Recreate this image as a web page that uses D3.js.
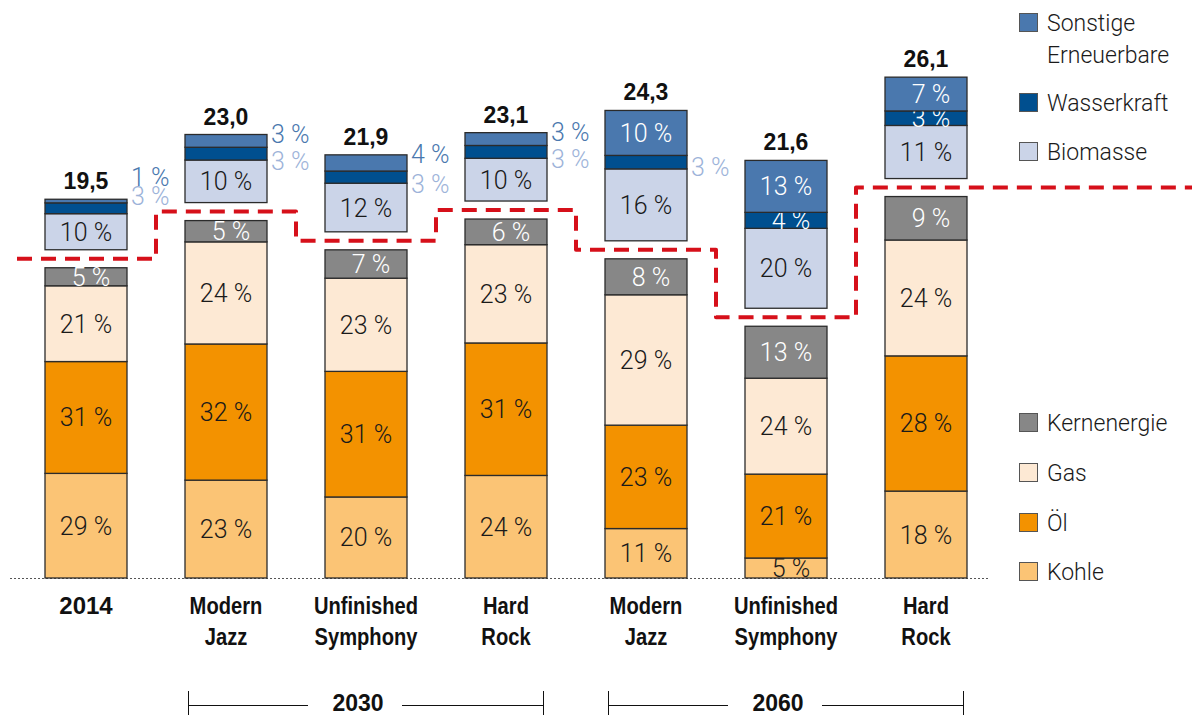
<!DOCTYPE html>
<html><head><meta charset="utf-8">
<script src="https://cdn.jsdelivr.net/npm/d3@7"></script>
<style>
body{margin:0;background:#fff}
svg{display:block}
</style></head><body>
<svg id="chart" width="1192" height="715"></svg>
<script>
// Primary energy supply by scenario: totals and percentage shares per source
const scenarioLabels = [["2014"], ["Modern", "Jazz"], ["Unfinished", "Symphony"], ["Hard", "Rock"], ["Modern", "Jazz"], ["Unfinished", "Symphony"], ["Hard", "Rock"]];
const totals = [19.5, 23.0, 21.9, 23.1, 24.3, 21.6, 26.1];
const kohle = [29, 23, 20, 24, 11, 5, 18];
const oel = [31, 32, 31, 31, 23, 21, 28];
const gas = [21, 24, 23, 23, 29, 24, 24];
const kernenergie = [5, 5, 7, 6, 8, 13, 9];
const biomasse = [10, 10, 12, 10, 16, 20, 11];
const wasserkraft = [3, 3, 3, 3, 3, 4, 3];
const sonstige = [1, 3, 4, 3, 10, 13, 7];
const periods = [{ label: "2030", first: 1, last: 3 }, { label: "2060", first: 4, last: 6 }];
// small renewable segments whose share is written beside the bar
const besideLabels = [["Wasserkraft", "Sonstige"], ["Wasserkraft", "Sonstige"], ["Wasserkraft", "Sonstige"], ["Wasserkraft", "Sonstige"], ["Wasserkraft"], [], []];

const fossilKeys = ["Kohle", "Öl", "Gas", "Kernenergie"];
const renewKeys = ["Biomasse", "Wasserkraft", "Sonstige"];
const shares = { "Kohle": kohle, "Öl": oel, "Gas": gas, "Kernenergie": kernenergie, "Biomasse": biomasse, "Wasserkraft": wasserkraft, "Sonstige": sonstige };

const fill = { "Kohle": "#fbc475", "Öl": "#f39200", "Gas": "#fde9d4", "Kernenergie": "#878787", "Biomasse": "#cbd4e8", "Wasserkraft": "#004f8f", "Sonstige": "#4a78ae" };
const darkFill = new Set(["Kernenergie", "Wasserkraft", "Sonstige"]);
const besideColor = { "Sonstige": "#4a78ae", "Wasserkraft": "#9db3d9" };

const LABEL_FONT = "Roboto, 'Liberation Sans', sans-serif";
const BOLD_FONT = "'Liberation Sans', Arial, sans-serif";
const LABEL_SIZE = 25;

const svg = d3.select("#chart");
const baseY = 578;
const GAP = 18;          // white space between fossil and renewable stacks
const barW = 82;

const x = d3.scalePoint().domain(d3.range(totals.length)).range([86, 926]);
const y = d3.scaleLinear().domain([0, 30]).range([baseY, baseY - 30 * 18.5]);

const rows = totals.map((t, i) => {
  const r = { total: t };
  for (const k of Object.keys(shares)) r[k] = t * shares[k][i] / 100;
  return r;
});
const fossilSum = rows.map(r => d3.sum(fossilKeys, k => r[k]));

const fossilStack = d3.stack().keys(fossilKeys)(rows);
const renewStack = d3.stack().keys(renewKeys)(rows);
renewStack.forEach(s => s.forEach((d, j) => { d[0] += fossilSum[j]; d[1] += fossilSum[j]; }));

// dotted baseline
svg.append("line").attr("x1", 10).attr("x2", 990).attr("y1", baseY + 0.5).attr("y2", baseY + 0.5)
  .attr("stroke", "#555").attr("stroke-width", 1).attr("stroke-dasharray", "2,2");

function drawStack(stack, shift) {
  stack.forEach(s => {
    const key = s.key;
    const g = svg.append("g");
    g.selectAll("rect").data(s).join("rect")
      .attr("x", (d, i) => x(i) - barW / 2)
      .attr("y", d => y(d[1]) - shift)
      .attr("width", barW)
      .attr("height", d => y(d[0]) - y(d[1]))
      .attr("fill", fill[key])
      .attr("stroke", "#2b2b2b").attr("stroke-width", 1.3);
    g.selectAll("text").data(s.map((d, i) => ({ d, i })).filter(o => !besideLabels[o.i].includes(key)))
      .join("text")
      .attr("x", o => x(o.i) + (shares[key][o.i] < 10 ? 5 : 0))
      .attr("y", o => (y(o.d[0]) + y(o.d[1])) / 2 - shift)
      .attr("dy", "0.36em")
      .attr("text-anchor", "middle")
      .attr("font-family", LABEL_FONT).attr("font-weight", 300).attr("font-size", LABEL_SIZE)
      .attr("fill", darkFill.has(key) ? "#ffffff" : "#1a1a1a")
      .text(o => shares[key][o.i] + " %");
  });
}
drawStack(fossilStack, 0);
drawStack(renewStack, GAP);

// shares written beside the bar
const wasserSeries = renewStack[1];
totals.forEach((t, i) => {
  const list = besideLabels[i];
  if (!list.length) return;
  const top = y(wasserSeries[i][1] + rows[i]["Sonstige"]) - GAP;
  const wasserBottom = y(wasserSeries[i][0]) - GAP;
  const lx = x(i) + barW / 2 + 4;
  const pos = {};
  if (list.length === 2) {
    if (wasserBottom - top < 20) {
      pos["Wasserkraft"] = top - 3;
      pos["Sonstige"] = top - 22;
    } else {
      pos["Sonstige"] = top - 1;
      pos["Wasserkraft"] = wasserBottom + 1;
    }
  } else {
    pos["Wasserkraft"] = wasserBottom - 2;
  }
  list.forEach(k => {
    svg.append("text").attr("x", lx).attr("y", pos[k]).attr("dy", "0.36em")
      .attr("font-family", LABEL_FONT).attr("font-weight", 300).attr("font-size", LABEL_SIZE)
      .attr("fill", besideColor[k]).text(shares[k][i] + " %");
  });
});

// totals above bars
svg.append("g").selectAll("text").data(totals).join("text")
  .attr("x", (d, i) => x(i))
  .attr("y", (d, i) => y(d) - GAP - 10)
  .attr("text-anchor", "middle")
  .attr("font-family", BOLD_FONT).attr("font-weight", "bold").attr("font-size", 23)
  .attr("fill", "#111")
  .text(d => d3.format(".1f")(d).replace(".", ","));

// red dashed divider between fossil and renewable stacks
const mids = d3.range(totals.length - 1).map(i => (x(i) + x(i + 1)) / 2);
const linePts = [[17, y(fossilSum[0]) - GAP / 2]]
  .concat(mids.map((m, i) => [m, y(fossilSum[i + 1]) - GAP / 2]))
  .concat([[1192, y(fossilSum[totals.length - 1]) - GAP / 2]]);
svg.append("path").attr("d", d3.line().curve(d3.curveStepAfter)(linePts))
  .attr("fill", "none").attr("stroke", "#d6101a").attr("stroke-width", 4)
  .attr("stroke-dasharray", "15,9").attr("stroke-linejoin", "round");

// category labels (condensed bold for scenario names)
const cat = svg.append("g");
scenarioLabels.forEach((lines, i) => {
  const numeric = /^\d+$/.test(lines[0]);
  const t = cat.append("text").attr("text-anchor", "middle")
    .attr("transform", `translate(${x(i)},0) scale(${numeric ? 1 : 0.84},1)`)
    .attr("font-family", BOLD_FONT)
    .attr("font-weight", "bold").attr("font-size", 24).attr("fill", "#111");
  lines.forEach((l, j) => t.append("tspan").attr("x", 0).attr("y", 614 + j * 31).text(l));
});

// period brackets
periods.forEach(p => {
  const x0 = x(p.first) - 38, x1 = x(p.last) + 38;
  const cx = (x0 + x1) / 2 - 8;
  const g = svg.append("g").attr("stroke", "#111").attr("stroke-width", 1);
  g.append("line").attr("x1", x0).attr("x2", cx - 50).attr("y1", 705.5).attr("y2", 705.5);
  g.append("line").attr("x1", cx + 44).attr("x2", x1).attr("y1", 705.5).attr("y2", 705.5);
  g.append("line").attr("x1", x0 + 0.5).attr("x2", x0 + 0.5).attr("y1", 691).attr("y2", 715);
  g.append("line").attr("x1", x1 - 0.5).attr("x2", x1 - 0.5).attr("y1", 691).attr("y2", 715);
  svg.append("text").attr("x", cx).attr("y", 711).attr("text-anchor", "middle")
    .attr("font-family", BOLD_FONT).attr("font-weight", "bold").attr("font-size", 23)
    .attr("fill", "#111").text(p.label);
});

// legend
const legendItems = [
  { key: "Sonstige", lines: ["Sonstige", "Erneuerbare"], cy: 23 },
  { key: "Wasserkraft", lines: ["Wasserkraft"], cy: 103 },
  { key: "Biomasse", lines: ["Biomasse"], cy: 152 },
  { key: "Kernenergie", lines: ["Kernenergie"], cy: 423 },
  { key: "Gas", lines: ["Gas"], cy: 473 },
  { key: "Öl", lines: ["Öl"], cy: 523 },
  { key: "Kohle", lines: ["Kohle"], cy: 572 }
];
const lg = svg.append("g");
legendItems.forEach(it => {
  lg.append("rect").attr("x", 1019.5).attr("y", it.cy - 9.5).attr("width", 18).attr("height", 18)
    .attr("fill", fill[it.key]).attr("stroke", "#555").attr("stroke-width", 1);
  const t = lg.append("text").attr("font-family", LABEL_FONT).attr("font-weight", 300)
    .attr("font-size", 23).attr("fill", "#1a1a1a");
  it.lines.forEach((l, j) => t.append("tspan").attr("x", 1047).attr("y", it.cy + j * 32).attr("dy", "0.36em").text(l));
});
</script>
</body></html>
